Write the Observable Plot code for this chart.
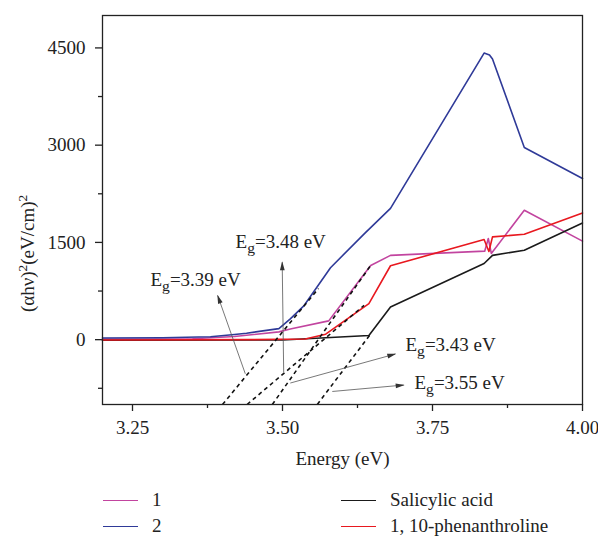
<!DOCTYPE html>
<html>
<head>
<meta charset="utf-8">
<script src="https://cdn.jsdelivr.net/npm/d3@7"></script>
<script src="https://cdn.jsdelivr.net/npm/@observablehq/plot@0.6"></script>
<style>
  html, body { margin: 0; padding: 0; background: #fff; }
  #wrap { position: relative; width: 598px; height: 536px; overflow: hidden; font-family: "Liberation Serif", Tinos, "DejaVu Serif", "Noto Serif", serif; }
  #legend { position: absolute; left: 103px; top: 486px; display: grid; grid-auto-flow: column; grid-template-rows: 28px 25px; grid-template-columns: 238px 240px; font-size: 19px; line-height: 1.1; color: #222; }
  .item { display: flex; align-items: center; }
  .sw { width: 35px; height: 0; border-top: 1.6px solid; margin-right: 14px; }
</style>
</head>
<body>
<div id="wrap">
  <div id="chart"></div>
  <div id="legend"></div>
</div>
<script>
// ---- data ----
const seriesNames = ["1", "2", "Salicylic acid", "1, 10-phenanthroline"];
const seriesColors = ["#c2449f", "#2f3a98", "#1a1a1a", "#e8181f"];

const energy1 = [3.20, 3.35, 3.42, 3.494, 3.513, 3.577, 3.647, 3.68, 3.837, 3.843, 3.848, 3.903, 4.00];
const value1  = [10, 15, 50, 120, 165, 290, 1145, 1300, 1365, 1560, 1330, 1995, 1520];

const energy2 = [3.20, 3.30, 3.38, 3.42, 3.44, 3.494, 3.513, 3.536, 3.58, 3.637, 3.68, 3.836, 3.845, 3.85, 3.903, 4.00];
const value2  = [25, 30, 45, 80, 100, 170, 320, 526, 1110, 1640, 2025, 4420, 4390, 4330, 2965, 2485];

const energySal = [3.20, 3.50, 3.644, 3.68, 3.836, 3.85, 3.903, 4.00];
const valueSal  = [-10, -5, 65, 505, 1175, 1300, 1380, 1800];

const energyPhen = [3.20, 3.45, 3.538, 3.572, 3.644, 3.68, 3.836, 3.844, 3.85, 3.903, 4.00];
const valuePhen  = [-5, 0, 10, 85, 555, 1140, 1545, 1360, 1585, 1625, 1955];

// tangent (extrapolation) lines
const tangentX1 = [3.40, 3.441, 3.483, 3.558];
const tangentY1 = [-1000, -1000, -1000, -1000];
const tangentX2 = [3.56, 3.636, 3.647, 3.645];
const tangentY2 = [790, 530, 1145, 65];

// annotation arrows
const arrowX1 = [3.438, 3.502, 3.513, 3.583];
const arrowY1 = [-526, -505, -669, -799];
const arrowX2 = [3.392, 3.4995, 3.688, 3.702];
const arrowY2 = [680, 1195, -221, -700];

// band-gap labels
const egText = ["3.39 eV", "3.48 eV", "3.43 eV", "3.55 eV"];
const egX = [3.28, 3.4217, 3.705, 3.72];
const egY = [835, 1411, -181, -762];

const xMajor = [3.25, 3.50, 3.75, 4.00];
const xMinor = [3.375, 3.625, 3.875];
const yMajor = [0, 1500, 3000, 4500];
const yMinor = [-750, 750, 2250, 3750];

const yLabel = "(αhν)^2(eV/cm)^2";
const xLabel = "Energy (eV)";

// ---- build tables ----
const seriesData = [
  [energy1, value1], [energy2, value2], [energySal, valueSal], [energyPhen, valuePhen]
].flatMap(([xs, ys], i) => xs.map((x, j) => ({x, y: ys[j], s: seriesNames[i]})));
const tangents = tangentX1.map((x, i) => ({x1: x, y1: tangentY1[i], x2: tangentX2[i], y2: tangentY2[i]}));
const arrows = arrowX1.map((x, i) => ({x1: x, y1: arrowY1[i], x2: arrowX2[i], y2: arrowY2[i]}));
const labels = egText.map((t, i) => ({x: egX[i], y: egY[i], t}));

const font = "'Liberation Serif', Tinos, 'DejaVu Serif', 'Noto Serif', serif";

const chart = Plot.plot({
  width: 598,
  height: 486,
  marginLeft: 102,
  marginRight: 16,
  marginTop: 15,
  marginBottom: 82,
  style: {fontFamily: font, fontSize: "19px", color: "#222", background: "#fff", overflow: "visible"},
  x: {domain: [3.2, 4.0]},
  y: {domain: [-1000, 5000]},
  color: {domain: seriesNames, range: seriesColors},
  marks: [
    Plot.axisX({ticks: xMinor, tickSize: 4, tickFormat: () => "", label: null, strokeWidth: 1.3}),
    Plot.axisY({ticks: yMinor, tickSize: 4, tickFormat: () => "", label: null, strokeWidth: 1.3}),
    Plot.axisX({ticks: xMajor, tickSize: 7, tickPadding: 9, tickFormat: d3.format(".2f"), strokeWidth: 1.3,
      label: xLabel, labelAnchor: "center", labelArrow: "none", labelOffset: 60, fontFamily: font}),
    Plot.axisY({ticks: yMajor, tickSize: 7, tickPadding: 10, tickFormat: d => String(d), label: null, strokeWidth: 1.3, fontFamily: font}),
    Plot.line(seriesData, {x: "x", y: "y", z: "s", stroke: "s", strokeWidth: 1.6, curve: "linear"}),
    Plot.link(tangents, {x1: "x1", y1: "y1", x2: "x2", y2: "y2", stroke: "#111", strokeWidth: 1.6, strokeDasharray: "4,3.5"}),
    Plot.link(arrows, {x1: "x1", y1: "y1", x2: "x2", y2: "y2", stroke: "#555", strokeWidth: 0.8, markerEnd: "arrow", className: "annarrow"}),
    Plot.text(labels, {x: "x", y: "y", text: d => "E_g=" + d.t, textAnchor: "start", lineAnchor: "bottom", fill: "#222", fontSize: 19, fontFamily: font, className: "eg"}),
    Plot.text([yLabel], {x: () => 3.2, y: () => 1330, text: d => d, rotate: -90, dx: -75, textAnchor: "middle", lineAnchor: "middle", fill: "#222", fontSize: 19, fontFamily: font, className: "ylab"}),
    Plot.frame({stroke: "#222", strokeWidth: 1.3})
  ]
});
document.getElementById("chart").appendChild(chart);

const root = d3.select(chart);
root.selectAll("text").style("font-family", font);
// subscripts in Eg labels
root.selectAll(".eg text").each(function() {
  const t = this.textContent;
  const rest = t.slice(3);
  const s = d3.select(this);
  s.text(null);
  s.append("tspan").text("E");
  s.append("tspan").attr("dy", 5).attr("font-size", "0.82em").text("g");
  s.append("tspan").attr("dy", -5).text(rest);
});
// superscripts in y label
root.selectAll(".ylab text").each(function() {
  const parts = this.textContent.split("^2");
  const s = d3.select(this);
  s.text(null);
  parts.forEach((p, i) => {
    if (!p) return;
    s.append("tspan").attr("dy", i === 0 ? null : 7).text(p);
    if (i < parts.length - 1) s.append("tspan").attr("dy", -7).attr("font-size", "0.7em").text("2");
  });
});
// filled arrowheads
root.selectAll(".annarrow marker").each(function() {
  const m = d3.select(this);
  m.attr("markerUnits", "userSpaceOnUse").attr("viewBox", "-9 -3 10 6")
   .attr("markerWidth", 10).attr("markerHeight", 6)
   .attr("fill", "#333").attr("stroke", "none");
  m.selectAll("path").attr("d", "M-8,-2.4L1,0L-8,2.4Z");
});

// legend
const legend = d3.select("#legend");
seriesNames.forEach((n, i) => {
  const it = legend.append("div").attr("class", "item");
  it.append("div").attr("class", "sw").style("border-color", seriesColors[i]);
  it.append("span").text(n);
});
</script>
</body>
</html>
